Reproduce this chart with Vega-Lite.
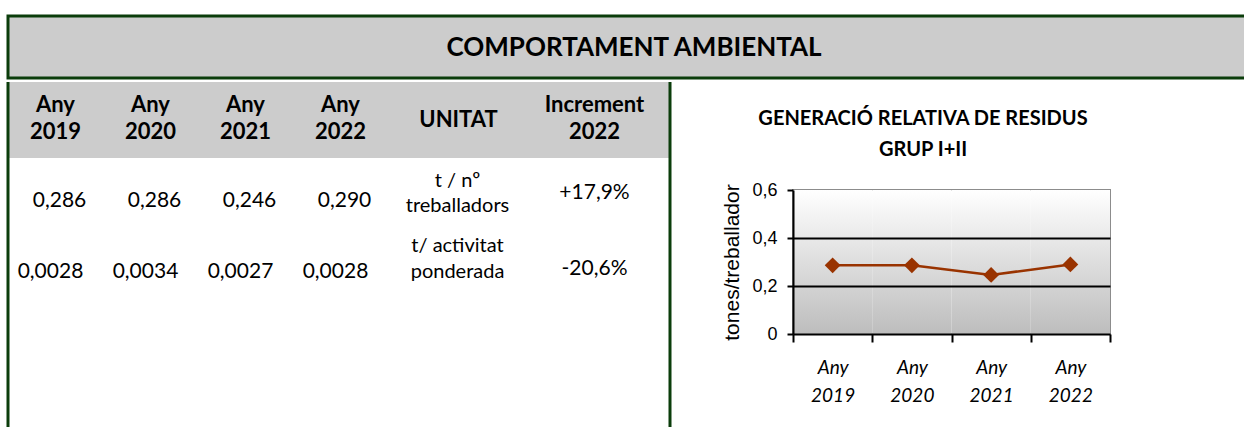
{
  "$schema": "https://vega.github.io/schema/vega-lite/v6.json",
  "padding": {"left": 6, "top": 14, "right": 0, "bottom": 0},
  "background": "white",
  "spacing": 0,
  "config": {
    "view": {"stroke": null},
    "font": "Lato",
    "text": {"lineBreak": "\n", "color": "black"}
  },
  "datasets": {
    "taula_anys": [
      {"any": "2019", "fila": "capcalera", "text": "Any\n2019"},
      {"any": "2020", "fila": "capcalera", "text": "Any\n2020"},
      {"any": "2021", "fila": "capcalera", "text": "Any\n2021"},
      {"any": "2022", "fila": "capcalera", "text": "Any\n2022"},
      {"any": "2019", "fila": "t_treballador", "text": "0,286"},
      {"any": "2020", "fila": "t_treballador", "text": "0,286"},
      {"any": "2021", "fila": "t_treballador", "text": "0,246"},
      {"any": "2022", "fila": "t_treballador", "text": "0,290"},
      {"any": "2019", "fila": "t_activitat", "text": "0,0028"},
      {"any": "2020", "fila": "t_activitat", "text": "0,0034"},
      {"any": "2021", "fila": "t_activitat", "text": "0,0027"},
      {"any": "2022", "fila": "t_activitat", "text": "0,0028"}
    ],
    "taula_unitats": [
      {"columna": "UNITAT", "fila": "capcalera", "text": "UNITAT"},
      {"columna": "Increment", "fila": "capcalera", "text": "Increment\n2022"},
      {"columna": "UNITAT", "fila": "t_treballador", "text": "t / nº\ntreballadors"},
      {"columna": "Increment", "fila": "t_treballador", "text": "+17,9%"},
      {"columna": "UNITAT", "fila": "t_activitat", "text": "t/ activitat\nponderada"},
      {"columna": "Increment", "fila": "t_activitat", "text": "-20,6%"}
    ],
    "grafic": [
      {"any": "Any 2019", "valor": 0.286},
      {"any": "Any 2020", "valor": 0.286},
      {"any": "Any 2021", "valor": 0.246},
      {"any": "Any 2022", "valor": 0.290}
    ]
  },
  "vconcat": [
    {
      "width": 1238,
      "height": 62,
      "view": {"fill": "#cccccc", "stroke": "#0b3d0b", "strokeWidth": 3},
      "data": {"values": [{"titol": "COMPORTAMENT AMBIENTAL"}]},
      "mark": {"type": "text", "fontSize": 26, "fontWeight": "bold", "font": "Lato", "color": "black", "dx": 7, "baseline": "middle", "dy": 1},
      "encoding": {"text": {"field": "titol"}}
    },
    {
      "spacing": 48,
      "hconcat": [
        {
          "spacing": 0,
          "hconcat": [
            {
              "width": 380,
              "height": 351,
              "data": {"name": "taula_anys"},
              "encoding": {
                "x": {"field": "any", "type": "nominal", "scale": {"domain": ["2019", "2020", "2021", "2022"], "paddingInner": 0, "paddingOuter": 0}, "axis": null},
                "y": {"field": "fila", "type": "nominal", "scale": {"domain": ["capcalera", "t_treballador", "t_activitat"], "paddingInner": 0, "paddingOuter": 0.809, "align": 0}, "axis": null}
              },
              "layer": [
                {
                  "transform": [{"filter": "datum.fila === 'capcalera'"}],
                  "mark": {"type": "rect", "color": "#cccccc"}
                },
                {
                  "transform": [{"filter": "datum.fila === 'capcalera'"}],
                  "mark": {"type": "text", "fontSize": 22, "fontWeight": "bold", "lineHeight": 27, "baseline": "middle", "dy": -15},
                  "encoding": {"text": {"field": "text"}}
                },
                {
                  "transform": [{"filter": "datum.fila === 't_treballador'"}],
                  "mark": {"type": "text", "fontSize": 21, "baseline": "middle", "dx": 4, "dy": 5},
                  "encoding": {"text": {"field": "text"}}
                },
                {
                  "transform": [{"filter": "datum.fila === 't_activitat'"}],
                  "mark": {"type": "text", "fontSize": 21, "baseline": "middle", "dx": -5, "dy": 0},
                  "encoding": {"text": {"field": "text"}}
                },
                {
                  "transform": [{"filter": "datum.fila === 'capcalera' && datum.any === '2019'"}],
                  "mark": {"type": "rule", "color": "#0b3d0b", "strokeWidth": 3},
                  "encoding": {
                    "x": {"datum": "2019", "type": "nominal", "bandPosition": 0},
                    "y": null
                  }
                }
              ]
            },
            {
              "width": 282,
              "height": 351,
              "data": {"name": "taula_unitats"},
              "encoding": {
                "x": {"field": "columna", "type": "nominal", "scale": {"domain": ["UNITAT", "Increment"], "paddingInner": 0, "paddingOuter": 0}, "axis": null},
                "y": {"field": "fila", "type": "nominal", "scale": {"domain": ["capcalera", "t_treballador", "t_activitat"], "paddingInner": 0, "paddingOuter": 0.809, "align": 0}, "axis": null}
              },
              "layer": [
                {
                  "transform": [{"filter": "datum.fila === 'capcalera'"}],
                  "mark": {"type": "rect", "color": "#cccccc"}
                },
                {
                  "transform": [{"filter": "datum.fila === 'capcalera' && datum.columna === 'UNITAT'"}],
                  "mark": {"type": "text", "fontSize": 22, "fontWeight": "bold", "baseline": "middle", "dy": -0.5},
                  "encoding": {"text": {"field": "text"}}
                },
                {
                  "transform": [{"filter": "datum.fila === 'capcalera' && datum.columna === 'Increment'"}],
                  "mark": {"type": "text", "fontSize": 22, "fontWeight": "bold", "lineHeight": 27, "baseline": "middle", "dy": -15, "dx": -5},
                  "encoding": {"text": {"field": "text"}}
                },
                {
                  "transform": [{"filter": "datum.fila === 't_treballador' && datum.columna === 'UNITAT'"}],
                  "mark": {"type": "text", "fontSize": 20, "lineHeight": 25, "baseline": "middle", "dy": -15, "dx": -1},
                  "encoding": {"text": {"field": "text"}}
                },
                {
                  "transform": [{"filter": "datum.fila === 't_activitat' && datum.columna === 'UNITAT'"}],
                  "mark": {"type": "text", "fontSize": 20, "lineHeight": 26, "baseline": "middle", "dy": -26, "dx": -1},
                  "encoding": {"text": {"field": "text"}}
                },
                {
                  "transform": [{"filter": "datum.fila !== 'capcalera' && datum.columna === 'Increment'"}],
                  "mark": {"type": "text", "fontSize": 21, "baseline": "middle", "dy": -3.5, "dx": -5},
                  "encoding": {"text": {"field": "text"}}
                },
                {
                  "transform": [{"filter": "datum.fila === 'capcalera' && datum.columna === 'Increment'"}],
                  "mark": {"type": "rule", "color": "#0b3d0b", "strokeWidth": 3},
                  "encoding": {
                    "x": {"datum": "Increment", "type": "nominal", "bandPosition": 1},
                    "y": null
                  }
                }
              ]
            }
          ]
        },
        {
          "spacing": 1,
          "vconcat": [
            {
              "width": 317,
              "height": 97,
              "data": {"values": [{"titol": "GENERACIÓ RELATIVA DE RESIDUS\nGRUP I+II"}]},
              "mark": {"type": "text", "fontSize": 20, "fontWeight": "bold", "lineHeight": 31, "baseline": "middle", "dy": -11.5, "dx": -28.5, "color": "black"},
              "encoding": {"text": {"field": "titol"}}
            },
            {
              "width": 317,
              "height": 144,
              "view": {"stroke": "#8c8c8c", "strokeWidth": 2},
              "data": {"name": "grafic"},
              "encoding": {
                "x": {
                  "field": "any",
                  "type": "nominal",
                  "sort": null,
                  "scale": {"paddingInner": 0, "paddingOuter": 0},
                  "axis": {
                    "title": null,
                    "labelExpr": "split(datum.label, ' ')",
                    "labelFont": "Lato",
                    "labelFontStyle": "italic",
                    "labelFontSize": 19,
                    "labelColor": "black",
                    "labelLineHeight": 28,
                    "labelPadding": 16,
                    "labelAngle": 0,
                    "tickBand": "extent",
                    "tickSize": 8,
                    "tickColor": "black",
                    "tickWidth": 2,
                    "domainColor": "black",
                    "domainWidth": 2,
                    "zindex": 1
                  }
                }
              },
              "layer": [
                {
                  "mark": {
                    "type": "rect",
                    "color": {
                      "gradient": "linear",
                      "x1": 0, "y1": 0, "x2": 0, "y2": 1,
                      "stops": [
                        {"offset": 0, "color": "#ffffff"},
                        {"offset": 1, "color": "#bdbdbd"}
                      ]
                    }
                  },
                  "encoding": {
                    "y": {
                      "datum": 0.6,
                      "type": "quantitative",
                      "scale": {"domain": [0, 0.6], "nice": false, "zero": true},
                      "axis": {
                        "values": [0, 0.2, 0.4, 0.6],
                        "title": "tones/treballador",
                        "titleFont": "Liberation Sans",
                        "titleFontSize": 21,
                        "titleFontWeight": "normal",
                        "titleColor": "black",
                        "titlePadding": 9,
                        "labelFont": "Liberation Sans",
                        "labelFontSize": 18,
                        "labelColor": "black",
                        "labelPadding": 10,
                        "labelExpr": "replace(format(datum.value, '.1~f'), '.', ',')",
                        "domainColor": "black",
                        "domainWidth": 2,
                        "tickColor": "black",
                        "tickWidth": 2,
                        "tickSize": 6,
                        "grid": true,
                        "gridColor": {"condition": {"test": "datum.value >= 0.6 || datum.value <= 0", "value": "transparent"}, "value": "black"},
                        "gridWidth": 2,
                        "zindex": 1
                      }
                    },
                    "y2": {"datum": 0}
                  }
                },
                {
                  "mark": {
                    "type": "line",
                    "color": "#993300",
                    "strokeWidth": 2.5,
                    "point": {"filled": true, "shape": "diamond", "size": 250, "color": "#993300", "opacity": 1}
                  },
                  "encoding": {
                    "y": {
                      "field": "valor",
                      "type": "quantitative",
                      "axis": {
                        "values": [0, 0.2, 0.4, 0.6],
                        "title": "tones/treballador",
                        "titleFont": "Liberation Sans",
                        "titleFontSize": 21,
                        "titleFontWeight": "normal",
                        "titleColor": "black",
                        "titlePadding": 9,
                        "labelFont": "Liberation Sans",
                        "labelFontSize": 18,
                        "labelColor": "black",
                        "labelPadding": 10,
                        "labelExpr": "replace(format(datum.value, '.1~f'), '.', ',')",
                        "domainColor": "black",
                        "domainWidth": 2,
                        "tickColor": "black",
                        "tickWidth": 2,
                        "tickSize": 6,
                        "grid": true,
                        "gridColor": {"condition": {"test": "datum.value >= 0.6 || datum.value <= 0", "value": "transparent"}, "value": "black"},
                        "gridWidth": 2,
                        "zindex": 1
                      }
                    }
                  }
                }
              ]
            }
          ]
        }
      ]
    }
  ]
}
